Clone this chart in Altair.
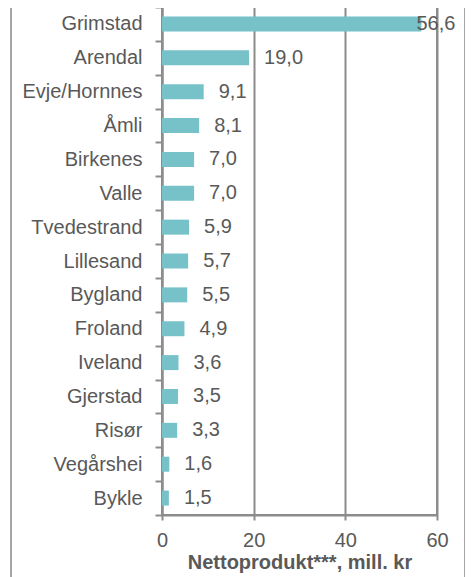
import altair as alt
import pandas as pd

names = ["Grimstad", "Arendal", "Evje/Hornnes", "Åmli", "Birkenes", "Valle",
         "Tvedestrand", "Lillesand", "Bygland", "Froland", "Iveland",
         "Gjerstad", "Risør", "Vegårshei", "Bykle"]
values = [56.6, 19.0, 9.1, 8.1, 7.0, 7.0, 5.9, 5.7, 5.5, 4.9, 3.6, 3.5, 3.3, 1.6, 1.5]
x_ticks = [0, 20, 40, 60]
x_title = "Nettoprodukt***, mill. kr"

df = pd.DataFrame({"name": names, "value": values})
df["label"] = [f"{v:.1f}".replace(".", ",") for v in values]

TEXT = "#595959"
GRID = "#8c8c8c"
FONT = "Liberation Sans"

y_enc = alt.Y("name:N", sort=None, title=None,
              scale=alt.Scale(paddingInner=0, paddingOuter=0),
              axis=alt.Axis(labelFontSize=20, labelColor=TEXT, labelFont=FONT,
                            tickBand="extent", tickSize=7, tickColor=GRID,
                            tickWidth=2, domainColor=GRID, domainWidth=2,
                            labelPadding=13))
x_enc = alt.X("value:Q", title=x_title,
              scale=alt.Scale(domain=[0, 60], nice=False),
              axis=alt.Axis(values=x_ticks, labelFontSize=20, labelColor=TEXT,
                            labelFont=FONT, labelFlush=False, titleFont=FONT,
                            titleFontSize=20, titleFontWeight="bold",
                            titleColor=TEXT, titlePadding=2, grid=True,
                            gridColor=GRID, gridWidth=2, tickColor=GRID,
                            tickWidth=2, tickSize=5, domainColor=GRID,
                            domainWidth=2, labelPadding=10))

base = alt.Chart(df)
bars = base.mark_bar(color="#77C2C9", size=15).encode(x=x_enc, y=y_enc)
text_small = base.transform_filter(alt.datum.value < 50).mark_text(
    align="left", baseline="middle", dx=15, fontSize=20, color=TEXT, font=FONT
).encode(x="value:Q", y=alt.Y("name:N", sort=None), text="label:N")
text_big = base.transform_filter(alt.datum.value >= 50).mark_text(
    align="left", baseline="middle", dx=-5, fontSize=20, color=TEXT, font=FONT
).encode(x="value:Q", y=alt.Y("name:N", sort=None), text="label:N")

frame_df = pd.DataFrame({"side": ["left", "right"]})
frame_left = alt.Chart(frame_df).transform_filter(alt.datum.side == "left").mark_rule(
    color="#a6a6a6", strokeWidth=2
).encode(x=alt.value(-151), y=alt.value(-10), y2=alt.value(600))
frame_right = alt.Chart(frame_df).transform_filter(alt.datum.side == "right").mark_rule(
    color="#a6a6a6", strokeWidth=2
).encode(x=alt.value(303), y=alt.value(-10), y2=alt.value(600))

chart = alt.layer(bars, text_small, text_big, frame_left, frame_right).properties(
    width=275, height=508,
    autosize=alt.AutoSizeParams(type="none"),
    padding={"left": 154, "top": -1, "right": 28, "bottom": 70},
    background="white",
).configure_view(stroke=GRID, strokeWidth=2)

chart.save("out.html", embed_options={"renderer": "svg", "actions": False})
